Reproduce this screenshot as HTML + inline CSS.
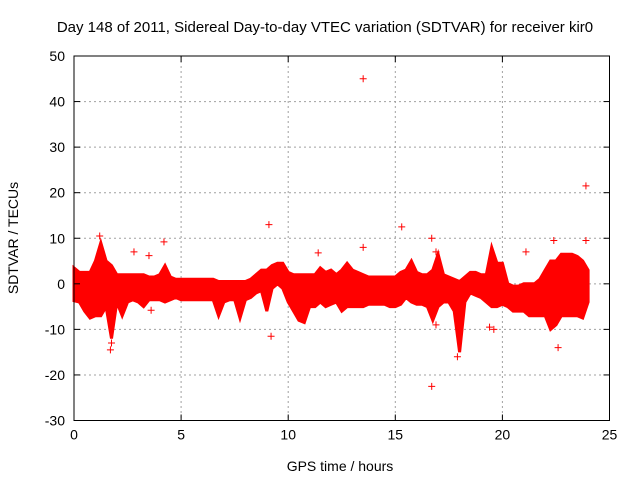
<!DOCTYPE html>
<html><head><meta charset="utf-8"><style>
html,body{margin:0;padding:0;background:#fff;}
svg{display:block;font-family:"Liberation Sans",sans-serif;}
</style></head><body>
<svg id="chart" width="640" height="480">
<rect width="640" height="480" fill="#fff"/>
<text x="325" y="32" font-size="15" text-anchor="middle">Day 148 of 2011, Sidereal Day-to-day VTEC variation (SDTVAR) for receiver kir0</text>
<g id="grid"></g>
<g id="marks"></g>
<g id="axes"></g>
<text x="340" y="471" font-size="14" text-anchor="middle">GPS time / hours</text>
<text transform="translate(18,238) rotate(-90)" font-size="14" text-anchor="middle">SDTVAR / TECUs</text>
</svg>
<script>
const xTicks=[0,5,10,15,20,25];
const yTicks=[-30,-20,-10,0,10,20,30,40,50];
const binTimes=[0,0.25,0.5,0.75,1,1.25,1.5,1.75,2,2.25,2.5,2.75,3,3.25,3.5,3.75,4,4.25,4.5,4.75,5,5.25,5.5,5.75,6,6.25,6.5,6.75,7,7.25,7.5,7.75,8,8.25,8.5,8.75,9,9.25,9.5,9.75,10,10.25,10.5,10.75,11,11.25,11.5,11.75,12,12.25,12.5,12.75,13,13.25,13.5,13.75,14,14.25,14.5,14.75,15,15.25,15.5,15.75,16,16.25,16.5,16.75,17,17.25,17.5,17.75,18,18.25,18.5,18.75,19,19.25,19.5,19.75,20,20.25,20.5,20.75,21,21.25,21.5,21.75,22,22.25,22.5,22.75,23,23.25,23.5,23.75,24];
const bandUpper=[3.5,2.5,2.5,2.5,5,9,5,4,2,2,2,2,2,2,1.5,1.5,2,4,1.5,1,1,1,1,1,1,1,1,0.5,0.5,0.5,0.5,0.5,0.5,1,2,3,3,4,4.5,4.5,2.5,2,2,2,2,2,3.5,2.5,3,2,3,4.5,3,2.5,2,1.5,1.5,1.5,1.5,1.5,1.5,2.5,3,5,2.5,2,2,3,6.5,2,1.5,1,0.5,1.5,2.5,2.5,2,2,8,4.5,4.5,0,-0.5,-0.5,0,0,0,1,3,5,5,6.5,6.5,6.5,6,5,3];
const bandLower=[-3.7,-4,-6,-7.5,-7,-7,-5,-12,-4,-7,-4,-3.5,-4,-5,-3.5,-3.5,-3.5,-4,-3.5,-3,-3.5,-3.5,-3.5,-3.5,-3.5,-3.5,-3.5,-7,-4,-3.5,-3.5,-7.5,-3.5,-3,-2,-1.5,-6,-1,0,-1,-4,-6,-8,-8.5,-5,-5,-4,-5,-4.5,-4,-6,-5,-5,-5,-5,-4.5,-4.5,-4.5,-4.5,-5,-5,-4.5,-3,-4,-4.5,-4.5,-5,-8,-5,-4,-4,-6,-15,-4,-2,-2.5,-3,-4,-5,-5,-4.5,-5,-6,-6,-6,-7,-7,-7,-7,-10,-9,-7,-7,-7,-7,-7.5,-4];
const outlierTimes=[1.2,1.7,1.75,2.8,3.5,3.6,4.2,9.1,9.2,11.4,13.5,13.5,15.3,16.7,16.7,16.9,16.9,17.9,19.4,19.6,21.1,22.4,22.6,23.9,23.9];
const outlierValues=[10.5,-14.5,-13,7,6.2,-5.8,9.2,13,-11.5,6.8,45,8,12.5,10,-22.5,-9,7,-16,-9.5,-10,7,9.5,-14,21.5,9.5];

const NS="http://www.w3.org/2000/svg";
const X0=74,X1=609.5,Y0=420.5,Y1=56;
const xs=t=>X0+(t-0)/(25-0)*(X1-X0);
const ys=v=>Y0-(v+30)/(80)*(Y0-Y1);
function mk(tag,attrs,parent){const e=document.createElementNS(NS,tag);for(const k in attrs)e.setAttribute(k,attrs[k]);parent.appendChild(e);return e;}
const grid=document.getElementById('grid'),marks=document.getElementById('marks'),axes=document.getElementById('axes');
xTicks.forEach(t=>{
  if(t>0&&t<25){const g=mk('line',{x1:xs(t),x2:xs(t),y1:Y1,y2:Y0,stroke:'#a0a0a0','stroke-dasharray':'2,3'},grid);
  
  }
  const l=mk('text',{x:xs(t),y:Y0+19,'font-size':14,'text-anchor':'middle'},axes);l.textContent=t;
  
  
  mk('line',{x1:xs(t),x2:xs(t),y1:Y0,y2:Y0-6,stroke:'#000'},axes);
  mk('line',{x1:xs(t),x2:xs(t),y1:Y1,y2:Y1+6,stroke:'#000'},axes);
});
yTicks.forEach(v=>{
  if(v>-30&&v<50){const g=mk('line',{x1:X0,x2:X1,y1:ys(v),y2:ys(v),stroke:'#a0a0a0','stroke-dasharray':'2,3'},grid);
  
  }
  const l=mk('text',{x:X0-9,y:ys(v)+5,'font-size':14,'text-anchor':'end'},axes);l.textContent=v;
  
  
  mk('line',{x1:X0,x2:X0+6,y1:ys(v),y2:ys(v),stroke:'#000'},axes);
  mk('line',{x1:X1,x2:X1-6,y1:ys(v),y2:ys(v),stroke:'#000'},axes);
});
const frame=mk('rect',{x:X0,y:Y1,width:X1-X0,height:Y0-Y1,fill:'none',stroke:'#000'},axes);


let d='';
binTimes.forEach((t,i)=>{d+=(i?'L':'M')+xs(t).toFixed(1)+','+ys(bandUpper[i]).toFixed(1);});
for(let i=binTimes.length-1;i>=0;i--){d+='L'+xs(binTimes[i]).toFixed(1)+','+ys(bandLower[i]).toFixed(1);}
d+='Z';
const band=mk('path',{d:d,fill:'#ff0000',stroke:'#ff0000','stroke-width':3,'stroke-linejoin':'miter'},marks);


outlierTimes.forEach((t,i)=>{
  const cx=xs(t),cy=ys(outlierValues[i]);
  const p=mk('path',{d:`M${cx-3.5},${cy}H${cx+3.5}M${cx},${cy-3.5}V${cy+3.5}`,stroke:'#ff0000','stroke-width':1},marks);
  
  
});
</script>
</body></html>
